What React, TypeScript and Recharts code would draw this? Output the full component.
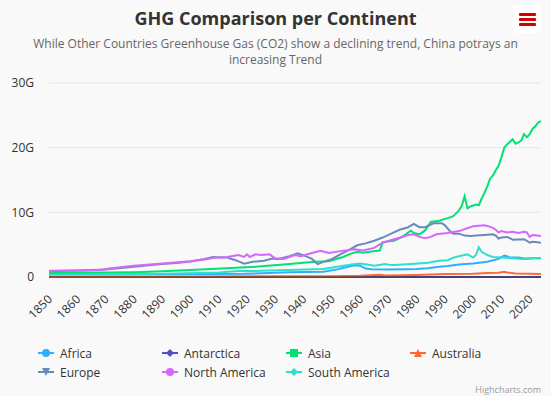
import React from "react";
import { LineChart, Line, XAxis, YAxis, CartesianGrid } from "recharts";

type Pt = [number, number];

// values in billions (G)
const africa: Pt[] = [
  [1850, 0.48], [1870, 0.42], [1890, 0.42], [1905, 0.45], [1919, 0.5], [1935, 0.72],
  [1947, 0.82], [1952, 1.18], [1955, 1.5], [1958, 1.8], [1960, 1.75], [1962, 1.3],
  [1964, 1.2], [1970, 1.15], [1976, 1.2], [1980, 1.25], [1984, 1.35], [1988, 1.6],
  [1991, 1.7], [1995, 1.95], [2000, 2.1], [2005, 2.35], [2009, 2.8], [2011, 3.3],
  [2012, 3.2], [2013, 3.0], [2016, 3.0], [2018, 2.85], [2021, 2.9], [2024, 2.9],
];

const antarctica: Pt[] = [
  [1850, 0], [1900, 0], [1950, 0], [2000, 0], [2024, 0],
];

const asia: Pt[] = [
  [1850, 0.67], [1870, 0.68], [1880, 0.75], [1890, 0.9], [1900, 1.08], [1911, 1.33],
  [1923, 1.6], [1935, 2.0], [1944, 2.35], [1949, 2.45], [1954, 3.1], [1957, 3.65],
  [1959, 3.9], [1961, 3.75], [1964, 3.95], [1967, 4.1], [1968, 5.4], [1972, 5.6],
  [1975, 6.2], [1978, 7.2], [1979, 6.8], [1981, 6.6], [1983, 7.2], [1985, 8.5],
  [1988, 8.7], [1991, 9.1], [1993, 9.4], [1995, 10.3], [1996, 11.0], [1997, 12.5],
  [1998, 10.6], [1999, 10.9], [2001, 11.2], [2002, 11.1], [2003, 12.1], [2004, 13.0],
  [2005, 14.0], [2006, 15.2], [2007, 15.7], [2008, 16.5], [2009, 17.2], [2010, 18.5],
  [2011, 20.0], [2012, 20.5], [2013, 20.9], [2014, 21.3], [2015, 20.6], [2016, 20.8],
  [2017, 21.1], [2018, 22.1], [2019, 21.6], [2020, 22.1], [2021, 22.9], [2022, 23.3],
  [2023, 23.9], [2024, 24.1],
];

const australia: Pt[] = [
  [1850, 0.05], [1900, 0.08], [1950, 0.12], [1960, 0.2], [1967, 0.33], [1969, 0.22],
  [1980, 0.3], [1990, 0.45], [2000, 0.5], [2005, 0.6], [2009, 0.65], [2011, 0.82],
  [2012, 0.7], [2015, 0.55], [2020, 0.5], [2024, 0.48],
];

const europe: Pt[] = [
  [1850, 0.9], [1860, 1.0], [1870, 1.15], [1880, 1.6], [1890, 2.0], [1896, 2.2],
  [1900, 2.4], [1905, 2.8], [1908, 3.1], [1910, 3.0], [1913, 3.0], [1916, 2.6],
  [1919, 2.05], [1922, 2.35], [1926, 2.5], [1929, 2.85], [1931, 2.75], [1935, 3.2],
  [1938, 3.65], [1941, 3.2], [1943, 2.8], [1945, 2.0], [1948, 2.5], [1950, 2.75],
  [1953, 3.5], [1956, 4.15], [1959, 4.9], [1962, 5.2], [1965, 5.6], [1968, 6.1],
  [1971, 6.7], [1974, 7.3], [1977, 7.7], [1979, 8.2], [1981, 7.7], [1983, 7.7],
  [1986, 8.3], [1989, 8.3], [1990, 8.0], [1992, 7.0], [1993, 6.7], [1995, 6.7],
  [1997, 6.4], [1999, 6.35], [2001, 6.4], [2004, 6.5], [2007, 6.6], [2008, 6.4],
  [2009, 5.95], [2010, 6.1], [2012, 6.2], [2013, 6.0], [2014, 5.75], [2016, 5.8],
  [2018, 5.85], [2019, 5.6], [2020, 5.3], [2021, 5.45], [2022, 5.4], [2024, 5.3],
];

const northAmerica: Pt[] = [
  [1850, 0.95], [1860, 1.0], [1868, 1.1], [1872, 1.35], [1880, 1.75], [1890, 2.1],
  [1900, 2.45], [1905, 2.7], [1909, 3.0], [1913, 3.1], [1917, 3.4], [1919, 3.1],
  [1920, 3.5], [1921, 3.1], [1923, 3.5], [1925, 3.4], [1928, 3.5], [1930, 2.9],
  [1933, 2.8], [1937, 3.4], [1939, 3.2], [1943, 3.7], [1946, 4.05], [1949, 3.7],
  [1953, 4.0], [1958, 4.3], [1961, 4.1], [1965, 4.5], [1968, 5.3], [1973, 5.95],
  [1977, 6.5], [1979, 6.6], [1981, 6.2], [1983, 6.0], [1985, 6.2], [1987, 6.6],
  [1991, 6.8], [1995, 7.1], [2000, 7.85], [2004, 8.0], [2005, 7.9], [2007, 7.6],
  [2008, 7.3], [2009, 6.9], [2010, 7.1], [2012, 6.9], [2014, 7.0], [2016, 6.8],
  [2018, 7.0], [2019, 6.9], [2020, 6.2], [2021, 6.5], [2022, 6.45], [2024, 6.35],
];

const southAmerica: Pt[] = [
  [1850, 0.36], [1870, 0.38], [1890, 0.5], [1903, 0.6], [1910, 0.7], [1917, 0.92],
  [1925, 0.95], [1935, 1.08], [1947, 1.23], [1952, 1.6], [1957, 1.95], [1960, 2.1],
  [1963, 1.9], [1965, 1.75], [1969, 2.0], [1970, 1.9], [1972, 1.85], [1978, 2.0],
  [1984, 2.2], [1988, 2.5], [1991, 2.6], [1993, 3.0], [1995, 3.2], [1998, 3.5],
  [2000, 3.0], [2001, 3.4], [2002, 4.6], [2003, 3.9], [2005, 3.4], [2007, 3.1],
  [2010, 3.0], [2014, 2.9], [2017, 2.8], [2019, 2.8], [2021, 2.9], [2024, 2.9],
];

const seriesNames = [
  "Africa", "Antarctica", "Asia", "Australia", "Europe", "North America", "South America",
];
const seriesData = [africa, antarctica, asia, australia, europe, northAmerica, southAmerica];
const seriesColors = [
  "#2caffe", "#544fc5", "#00e272", "#fe6a35", "#6b8abc", "#d568fb", "#2ee0ca",
];
const seriesSymbols = [
  "circle", "diamond", "square", "triangle", "triangle-down", "circle", "diamond",
];

const xTicks = [1850, 1860, 1870, 1880, 1890, 1900, 1910, 1920, 1930, 1940, 1950, 1960, 1970, 1980, 1990, 2000, 2010, 2020];
const yTicks = [0, 10, 20, 30];

const FONT = '"Open Sans", "Noto Sans", sans-serif';

const toRows = (pts: Pt[]) => pts.map(([year, value]) => ({ year, value }));

function XTick(props: any) {
  const { x, y, payload } = props;
  const ax = x + 4;
  const ay = y + 15;
  return (
    <text
      x={ax}
      y={ay}
      textAnchor="end"
      fill="#333333"
      fontSize={12}
      transform={`rotate(-45, ${ax}, ${ay})`}
    >
      {payload.value}
    </text>
  );
}

function Marker({ type, color }: { type: string; color: string }) {
  if (type === "circle") return <circle cx={8} cy={6} r={4} fill={color} />;
  if (type === "square") return <rect x={4} y={2} width={8} height={8} fill={color} />;
  if (type === "diamond") return <path d="M8 2 L12 6 L8 10 L4 6 Z" fill={color} />;
  if (type === "triangle") return <path d="M8 2 L12 10 L4 10 Z" fill={color} />;
  return <path d="M4 2 L12 2 L8 10 Z" fill={color} />;
}

function LegendBox() {
  const cols = [38, 162, 286, 410];
  const rows = [353, 372];
  return (
    <>
      {seriesNames.map((name, i) => {
        const left = cols[i % 4];
        const top = rows[Math.floor(i / 4)];
        return (
          <div
            key={name}
            style={{
              position: "absolute",
              left,
              top: top - 8,
              height: 16,
              display: "flex",
              alignItems: "center",
              fontSize: 12,
              color: "#333333",
              whiteSpace: "nowrap",
            }}
          >
            <svg width={16} height={12} style={{ marginRight: 6 }}>
              <line x1={0} y1={6} x2={16} y2={6} stroke={seriesColors[i]} strokeWidth={2} />
              <Marker type={seriesSymbols[i]} color={seriesColors[i]} />
            </svg>
            <span>{name}</span>
          </div>
        );
      })}
    </>
  );
}

export default function App() {
  return (
    <div
      style={{
        position: "absolute",
        left: 0,
        top: 0,
        width: 551,
        height: 396,
        background: "#f9f9f9",
        fontFamily: FONT,
        overflow: "hidden",
      }}
    >
      <div
        style={{
          position: "absolute",
          top: 6,
          left: 0,
          width: 551,
          textAlign: "center",
          fontSize: 18,
          fontWeight: 700,
          color: "#333333",
          lineHeight: "24px",
        }}
      >
        GHG Comparison per Continent
      </div>
      <div
        style={{
          position: "absolute",
          top: 36,
          left: 0,
          width: 551,
          textAlign: "center",
          fontSize: 12,
          color: "#666666",
          lineHeight: "16px",
        }}
      >
        <div>While Other Countries Greenhouse Gas (CO2) show a declining trend, China potrays an</div>
        <div>increasing Trend</div>
      </div>
      <div
        style={{
          position: "absolute",
          left: 513,
          top: 5,
          width: 28,
          height: 28,
          background: "#ffffff",
          borderRadius: 2,
        }}
      >
        {[9, 14, 19].map((t) => (
          <div
            key={t}
            style={{
              position: "absolute",
              left: 6,
              top: t - 1,
              width: 17,
              height: 3,
              background: "#d40000",
              borderRadius: 1,
            }}
          />
        ))}
      </div>
      <div style={{ position: "absolute", left: 0, top: 0 }}>
        <LineChart width={551} height={396} margin={{ top: 83, right: 10, bottom: 89, left: 0 }}>
          <CartesianGrid vertical={false} stroke="#e6e6e6" />
          <XAxis
            dataKey="year"
            type="number"
            domain={[1850, 2024]}
            ticks={xTicks}
            interval={0}
            height={30}
            tickLine={false}
            axisLine={{ stroke: "#333333", strokeWidth: 1 }}
            tick={<XTick />}
            allowDataOverflow
          />
          <YAxis
            type="number"
            domain={[0, 30]}
            ticks={yTicks}
            width={49}
            axisLine={false}
            tickLine={false}
            tickMargin={9}
            tick={{ fill: "#333333", fontSize: 12 }}
            tickFormatter={(v: number) => (v === 0 ? "0" : `${v}G`)}
          />
          {seriesData.map((pts, i) => (
            <Line
              key={seriesNames[i]}
              name={seriesNames[i]}
              data={toRows(pts)}
              dataKey="value"
              type="linear"
              stroke={seriesColors[i]}
              strokeWidth={2}
              dot={false}
              activeDot={false}
              isAnimationActive={false}
            />
          ))}
        </LineChart>
      </div>
      <LegendBox />
      <div
        style={{
          position: "absolute",
          right: 10,
          top: 383,
          fontSize: 9,
          color: "#999999",
        }}
      >
        Highcharts.com
      </div>
    </div>
  );
}
